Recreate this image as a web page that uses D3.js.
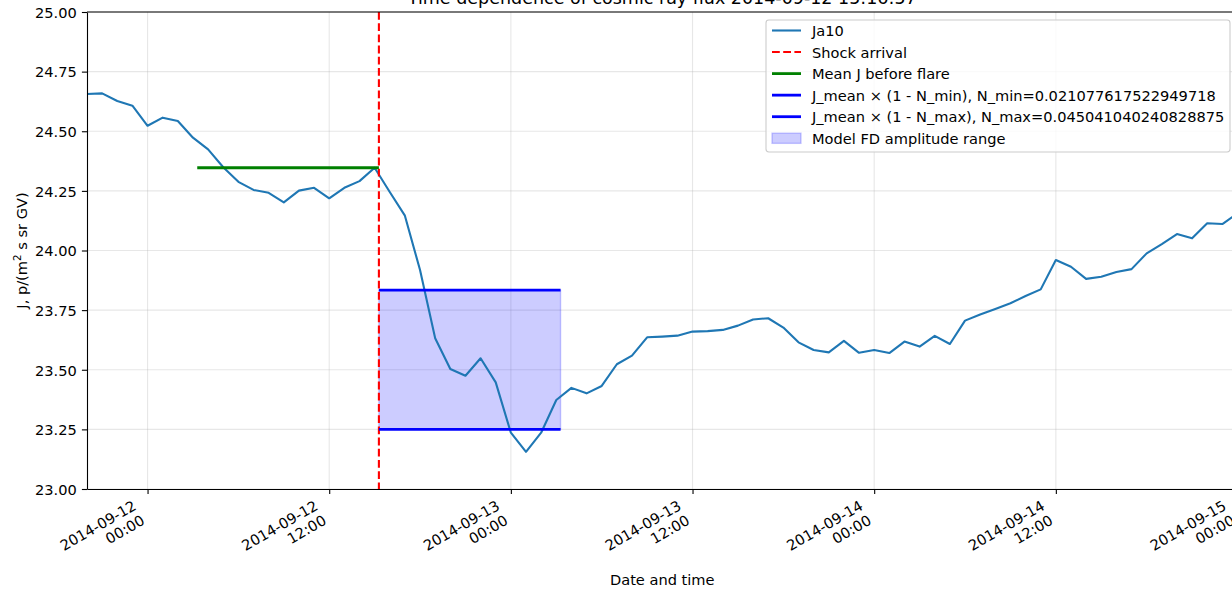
<!DOCTYPE html>
<html>
<head>
<meta charset="utf-8">
<script src="https://cdn.jsdelivr.net/npm/d3@7"></script>
<style>
  html, body { margin: 0; padding: 0; background: #fff; overflow: hidden; }
  svg { display: block; font-family: "DejaVu Sans", sans-serif; }
</style>
</head>
<body>
<svg id="chart" width="1232" height="592"></svg>
<script>
// ---------------- data ----------------
const startTime = "2014-09-11T20:00:00Z";   // first hourly sample
const ja10 = [
  24.656, 24.659, 24.627, 24.607, 24.523, 24.557, 24.543, 24.473, 24.424, 24.349,
  24.288, 24.254, 24.242, 24.202, 24.251, 24.263, 24.219, 24.263, 24.291, 24.347,
  24.245, 24.146, 23.918, 23.632, 23.503, 23.475, 23.548, 23.447, 23.236, 23.156,
  23.236, 23.373, 23.424, 23.401, 23.432, 23.523, 23.559, 23.636, 23.639, 23.643,
  23.660, 23.662, 23.667, 23.685, 23.711, 23.716, 23.677, 23.615, 23.583, 23.573,
  23.621, 23.571, 23.583, 23.570, 23.618, 23.597, 23.642, 23.608, 23.706, 23.732,
  23.755, 23.779, 23.809, 23.837, 23.960, 23.932, 23.881, 23.890, 23.910, 23.922,
  23.988, 24.027, 24.069, 24.051, 24.114, 24.111, 24.155
];
const shockTime = "2014-09-12T15:16:57Z";
const meanJ = 24.347;
const nMin = 0.021077617522949718;
const nMax = 0.045041040240828875;
const yTicks = [23.00, 23.25, 23.50, 23.75, 24.00, 24.25, 24.50, 24.75, 25.00];
const xTickTimes = ["2014-09-12T00:00:00Z", "2014-09-12T12:00:00Z", "2014-09-13T00:00:00Z",
  "2014-09-13T12:00:00Z", "2014-09-14T00:00:00Z", "2014-09-14T12:00:00Z", "2014-09-15T00:00:00Z"];
const legendLabels = [
  "Ja10",
  "Shock arrival",
  "Mean J before flare",
  "J_mean \u00d7 (1 - N_min), N_min=0.021077617522949718",
  "J_mean \u00d7 (1 - N_max), N_max=0.045041040240828875",
  "Model FD amplitude range"
];
const titleText = "Time dependence of cosmic ray flux 2014-09-12 15:16:57";

// ---------------- layout ----------------
const FS = 14.6;
const TK = 5.1;
const M = { left: 87, top: 12, right: 1237.5, bottom: 489 };
const svg = d3.select("#chart");

const t0 = new Date(startTime);
const times = ja10.map((_, i) => d3.utcHour.offset(t0, i));
const data = ja10.map((v, i) => ({ t: times[i], v }));
const shock = new Date(shockTime);

const x = d3.scaleUtc().domain([times[0], times[times.length - 1]]).range([M.left, M.right]);
const y = d3.scaleLinear().domain([23, 25]).range([M.bottom, M.top]);

svg.append("defs").append("clipPath").attr("id", "clip")
  .append("rect").attr("x", M.left).attr("y", M.top)
  .attr("width", M.right - M.left).attr("height", M.bottom - M.top);

// grid
const grid = svg.append("g");
grid.selectAll("line.gx").data(xTickTimes.map(d => new Date(d))).join("line")
  .attr("x1", d => x(d)).attr("x2", d => x(d)).attr("y1", M.top).attr("y2", M.bottom)
  .attr("stroke", "#b0b0b0").attr("stroke-opacity", 0.3).attr("stroke-width", 1.1);
grid.selectAll("line.gy").data(yTicks).join("line")
  .attr("x1", M.left).attr("x2", M.right).attr("y1", d => y(d)).attr("y2", d => y(d))
  .attr("stroke", "#b0b0b0").attr("stroke-opacity", 0.3).attr("stroke-width", 1.1);

const plot = svg.append("g").attr("clip-path", "url(#clip)");

const shockEnd = d3.utcHour.offset(shock, 12);
const preStart = d3.utcHour.offset(shock, -12);
const jMin = meanJ * (1 - nMin);
const jMax = meanJ * (1 - nMax);

// fill band
plot.append("rect")
  .attr("x", x(shock)).attr("width", x(shockEnd) - x(shock))
  .attr("y", y(jMin)).attr("height", y(jMax) - y(jMin))
  .attr("fill", "#0000ff").attr("fill-opacity", 0.2)
  .attr("stroke", "#0000ff").attr("stroke-opacity", 0.2).attr("stroke-width", 1.4);

// data line
plot.append("path").datum(data)
  .attr("d", d3.line().x(d => x(d.t)).y(d => y(d.v)))
  .attr("fill", "none").attr("stroke", "#1f77b4").attr("stroke-width", 2.1)
  .attr("stroke-linejoin", "round").attr("stroke-linecap", "butt");

// shock line
plot.append("line")
  .attr("x1", x(shock)).attr("x2", x(shock)).attr("y1", M.top).attr("y2", M.bottom)
  .attr("stroke", "#ff0000").attr("stroke-width", 2.1).attr("stroke-dasharray", "7.8,3.4");

// mean J line
plot.append("line")
  .attr("x1", x(preStart)).attr("x2", x(shock)).attr("y1", y(meanJ)).attr("y2", y(meanJ))
  .attr("stroke", "#008000").attr("stroke-width", 2.8);

// blue lines
[jMin, jMax].forEach(v => {
  plot.append("line")
    .attr("x1", x(shock)).attr("x2", x(shockEnd)).attr("y1", y(v)).attr("y2", y(v))
    .attr("stroke", "#0000ff").attr("stroke-width", 2.8);
});

// axes
const yAxis = svg.append("g").attr("transform", `translate(${M.left},0)`)
  .call(d3.axisLeft(y).tickValues(yTicks).tickFormat(d3.format(".2f"))
    .tickSize(TK).tickPadding(TK).tickSizeOuter(0));
yAxis.selectAll("text").attr("font-size", FS).attr("font-family", "DejaVu Sans")
  .attr("fill", "#000").attr("dy", "0.36em");

const xAxis = svg.append("g").attr("transform", `translate(0,${M.bottom})`)
  .call(d3.axisBottom(x).tickValues(xTickTimes.map(d => new Date(d))).tickFormat("")
    .tickSize(TK).tickSizeOuter(0));
[yAxis, xAxis].forEach(a => {
  a.select(".domain").attr("stroke", "#000").attr("stroke-width", 1.1);
  a.selectAll(".tick line").attr("stroke", "#000").attr("stroke-width", 1.1);
});
svg.append("line").attr("x1", M.left).attr("x2", M.right).attr("y1", M.top).attr("y2", M.top)
  .attr("stroke", "#000").attr("stroke-width", 1.1);

// x tick labels rotated 30 deg, right aligned
const fmtDate = d3.utcFormat("%Y-%m-%d"), fmtTime = d3.utcFormat("%H:%M");
const LS = 1.152 * FS;
const a = -30 * Math.PI / 180, ca = Math.cos(a), sa = Math.sin(a);
xTickTimes.forEach(s => {
  const d = new Date(s);
  const outer = svg.append("g");
  const inner = outer.append("g").attr("transform", "rotate(-30)");
  const txt = inner.append("text").attr("font-size", FS).attr("text-anchor", "end").attr("fill", "#000");
  const l1 = txt.append("tspan").attr("x", 0).attr("y", 0).text(fmtDate(d));
  const l2 = txt.append("tspan").attr("x", 0).attr("y", LS).text(fmtTime(d));
  const W = Math.max(l1.node().getComputedTextLength(), l2.node().getComputedTextLength());
  const corners = [[-W, -0.76 * FS], [0, -0.76 * FS], [-W, LS + 0.24 * FS], [0, LS + 0.24 * FS]]
    .map(([px, py]) => [px * ca - py * sa, px * sa + py * ca]);
  const maxX = d3.max(corners, c => c[0]);
  const minY = d3.min(corners, c => c[1]);
  outer.attr("transform", `translate(${x(d) - maxX},${M.bottom + 2 * TK - minY})`);
});

// axis labels
svg.append("text").attr("x", (M.left + M.right) / 2).attr("y", 585)
  .attr("text-anchor", "middle").attr("font-size", FS).text("Date and time");

const yl = svg.append("text").attr("transform", `translate(27,${(M.top + M.bottom) / 2}) rotate(-90)`)
  .attr("text-anchor", "middle").attr("font-size", FS);
yl.append("tspan").text("J, p/(m");
yl.append("tspan").attr("font-size", FS * 0.7).attr("dy", -5.8).text("2");
yl.append("tspan").attr("dy", 5.8).text(" s sr GV)");

// title
svg.append("text").attr("x", (M.left + M.right) / 2).attr("y", 3.7)
  .attr("text-anchor", "middle").attr("font-size", 17.5).text(titleText);

// legend
const lg = svg.append("g");
lg.append("rect").attr("x", 766).attr("y", 20).attr("width", 464).attr("height", 132)
  .attr("rx", 2.9).attr("fill", "#fff").attr("fill-opacity", 0.8)
  .attr("stroke", "#cccccc").attr("stroke-width", 1.1);
const rowY = i => 30.5 + i * 21.55;
const hx1 = 772, hx2 = 801;
const handles = [
  g => g.append("line").attr("stroke", "#1f77b4").attr("stroke-width", 2.1),
  g => g.append("line").attr("stroke", "#ff0000").attr("stroke-width", 2.1).attr("stroke-dasharray", "7.8,3.4"),
  g => g.append("line").attr("stroke", "#008000").attr("stroke-width", 2.8),
  g => g.append("line").attr("stroke", "#0000ff").attr("stroke-width", 2.8),
  g => g.append("line").attr("stroke", "#0000ff").attr("stroke-width", 2.8),
  null
];
legendLabels.forEach((lab, i) => {
  const cy = rowY(i);
  if (handles[i]) {
    handles[i](lg).attr("x1", hx1).attr("x2", hx2).attr("y1", cy).attr("y2", cy);
  } else {
    lg.append("rect").attr("x", hx1).attr("y", cy - 5.1).attr("width", hx2 - hx1).attr("height", 10.2)
      .attr("fill", "#0000ff").attr("fill-opacity", 0.2)
      .attr("stroke", "#0000ff").attr("stroke-opacity", 0.2).attr("stroke-width", 1.4);
  }
  lg.append("text").attr("x", 812).attr("y", cy + 5.6).attr("font-size", FS).attr("fill", "#000").text(lab);
});
</script>
</body>
</html>
